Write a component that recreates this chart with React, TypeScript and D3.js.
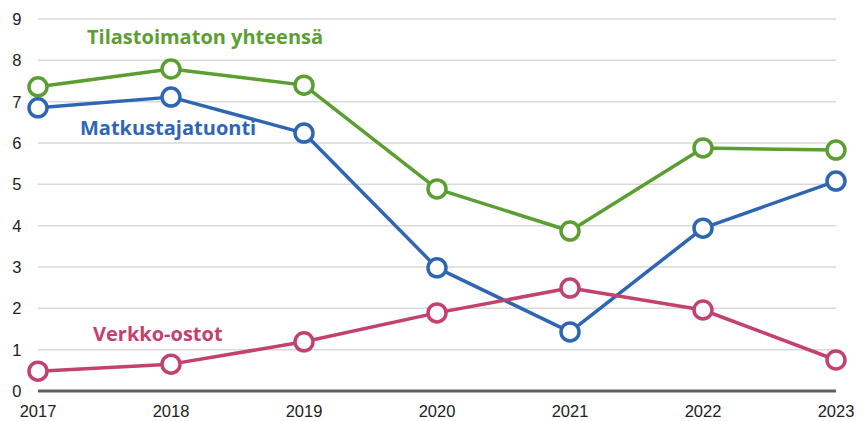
import React from 'react'
import * as d3 from 'd3'

const years = [2017, 2018, 2019, 2020, 2021, 2022, 2023]
const yTicks = [0, 1, 2, 3, 4, 5, 6, 7, 8, 9]

const tilastoimaton = [7.36, 7.79, 7.4, 4.89, 3.87, 5.88, 5.83]
const matkustajatuonti = [6.85, 7.11, 6.24, 2.98, 1.43, 3.94, 5.08]
const verkkoostot = [0.48, 0.65, 1.19, 1.89, 2.49, 1.96, 0.75]

const seriesNames = ['Tilastoimaton yhteensä', 'Matkustajatuonti', 'Verkko-ostot']

const W = 866
const H = 421

export default function App() {
  const x = d3.scaleLinear().domain([2017, 2023]).range([38, 836])
  const y = d3.scaleLinear().domain([0, 9]).range([391, 19])

  const series = [
    { name: seriesNames[0], values: tilastoimaton, color: '#5b9e32', lx: 87, ly: 44 },
    { name: seriesNames[1], values: matkustajatuonti, color: '#2f66b4', lx: 80, ly: 135 },
    { name: seriesNames[2], values: verkkoostot, color: '#c3416f', lx: 93, ly: 341 },
  ]

  const line = d3.line<number>()
    .x((_, i) => x(years[i]))
    .y(d => y(d))

  return (
    <svg width={W} height={H} style={{ position: 'absolute', left: 0, top: 0, background: '#fff' }}
      fontFamily="'Liberation Sans', Arial, sans-serif">
      {yTicks.filter(t => t > 0).map(t => (
        <line key={t} x1={x(2017)} x2={x(2023)} y1={y(t)} y2={y(t)} stroke="#d9d9d9" strokeWidth={1.5} />
      ))}
      <line x1={x(2017)} x2={x(2023)} y1={y(0)} y2={y(0)} stroke="#606060" strokeWidth={3} />
      {yTicks.map(t => (
        <text key={t} x={21.5} y={y(t) + 6} textAnchor="end" fontSize={16.5} fill="#222">{t}</text>
      ))}
      {years.map(yr => (
        <text key={yr} x={x(yr)} y={417} textAnchor="middle" fontSize={16.5} fill="#222">{yr}</text>
      ))}
      {series.map(s => (
        <g key={s.name}>
          <path d={line(s.values) || ''} fill="none" stroke={s.color} strokeWidth={3.5} strokeLinejoin="round" />
          {s.values.map((v, i) => (
            <circle key={i} cx={x(years[i])} cy={y(v)} r={9} fill="#fff" stroke={s.color} strokeWidth={3.5} />
          ))}
          <text x={s.lx} y={s.ly} fontSize={20} fontWeight="bold" fill={s.color}
            fontFamily="'Open Sans', 'Liberation Sans', sans-serif">{s.name}</text>
        </g>
      ))}
    </svg>
  )
}
